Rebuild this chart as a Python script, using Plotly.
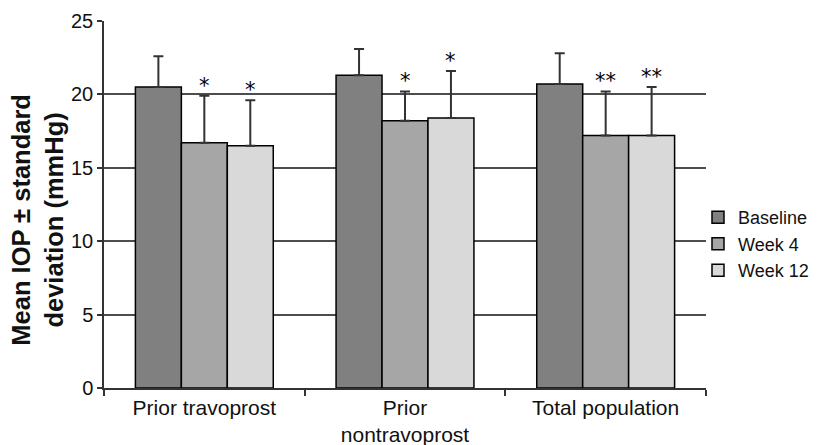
import plotly.graph_objects as go

categories = ["Prior travoprost", "Prior<br>nontravoprost", "Total population"]
series_names = ["Baseline", "Week 4", "Week 12"]
baseline = [20.5, 21.3, 20.7]
week4 = [16.7, 18.2, 17.2]
week12 = [16.5, 18.4, 17.2]
baseline_sd = [2.1, 1.8, 2.1]
week4_sd = [3.2, 2.0, 3.0]
week12_sd = [3.1, 3.2, 3.3]
week4_sig = ["*", "*", "**"]
week12_sig = ["*", "*", "**"]
y_ticks = [0, 5, 10, 15, 20, 25]
y_title = "<b>Mean IOP ± standard<br>deviation (mmHg)</b>"

colors = ["#808080", "#a6a6a6", "#d9d9d9"]
values = [baseline, week4, week12]
sds = [baseline_sd, week4_sd, week12_sd]
sigs = [None, week4_sig, week12_sig]

fig = go.Figure()
for name, vals, sd, col in zip(series_names, values, sds, colors):
    fig.add_trace(go.Bar(
        name=name, x=categories, y=vals,
        marker=dict(color=col, line=dict(color="#000000", width=1.5)),
        error_y=dict(type="data", array=sd, arrayminus=[0] * len(sd), symmetric=False,
                     color="#333333", thickness=2, width=5),
    ))

# significance markers above error bars
offsets = [-1, 0, 1]
bar_w = 0.229
for si, (vals, sd, sig) in enumerate(zip(values, sds, sigs)):
    if not sig:
        continue
    for ci in range(len(categories)):
        fig.add_annotation(
            x=ci + offsets[si] * bar_w, y=vals[ci] + sd[ci], xref="x", yref="y",
            text=sig[ci], showarrow=False, yanchor="bottom", yshift=-4,
            font=dict(family="DejaVu Sans, sans-serif", size=21, color="#000000"),
        )

# y-axis title as rotated annotation
fig.add_annotation(
    x=-0.11, y=0.458, xref="paper", yref="paper", text=y_title, textangle=-90,
    showarrow=False, xanchor="center", yanchor="middle",
    font=dict(family="Liberation Sans, Arial, sans-serif", size=25.5, color="#111111"),
)

fig.update_layout(
    width=817, height=445,
    margin=dict(l=96, r=119, t=13, b=65, autoexpand=False),
    paper_bgcolor="white", plot_bgcolor="white",
    barmode="group", bargap=0.313, bargroupgap=0,
    font=dict(family="Liberation Sans, Arial, sans-serif", size=20, color="#111111"),
    showlegend=True,
    legend=dict(x=0.9867, y=0.392, xanchor="left", yanchor="middle",
                font=dict(size=18), bgcolor="rgba(0,0,0,0)", itemwidth=30,
                tracegroupgap=0),
    xaxis=dict(showline=True, linecolor="#333333", linewidth=1.5,
               ticks="outside", tickson="boundaries", ticklen=6, tickcolor="#333333",
               tickwidth=1.5, tickfont=dict(size=21), showgrid=False),
    yaxis=dict(range=[0, 25], tickvals=y_ticks, showline=True, linecolor="#333333",
               linewidth=1.5, ticks="outside", ticklen=5, tickcolor="#333333",
               tickwidth=1.5, showgrid=True, gridcolor="#4d4d4d", gridwidth=1.5,
               zeroline=False, tickfont=dict(size=20)),
)

fig.write_html("out.html")
